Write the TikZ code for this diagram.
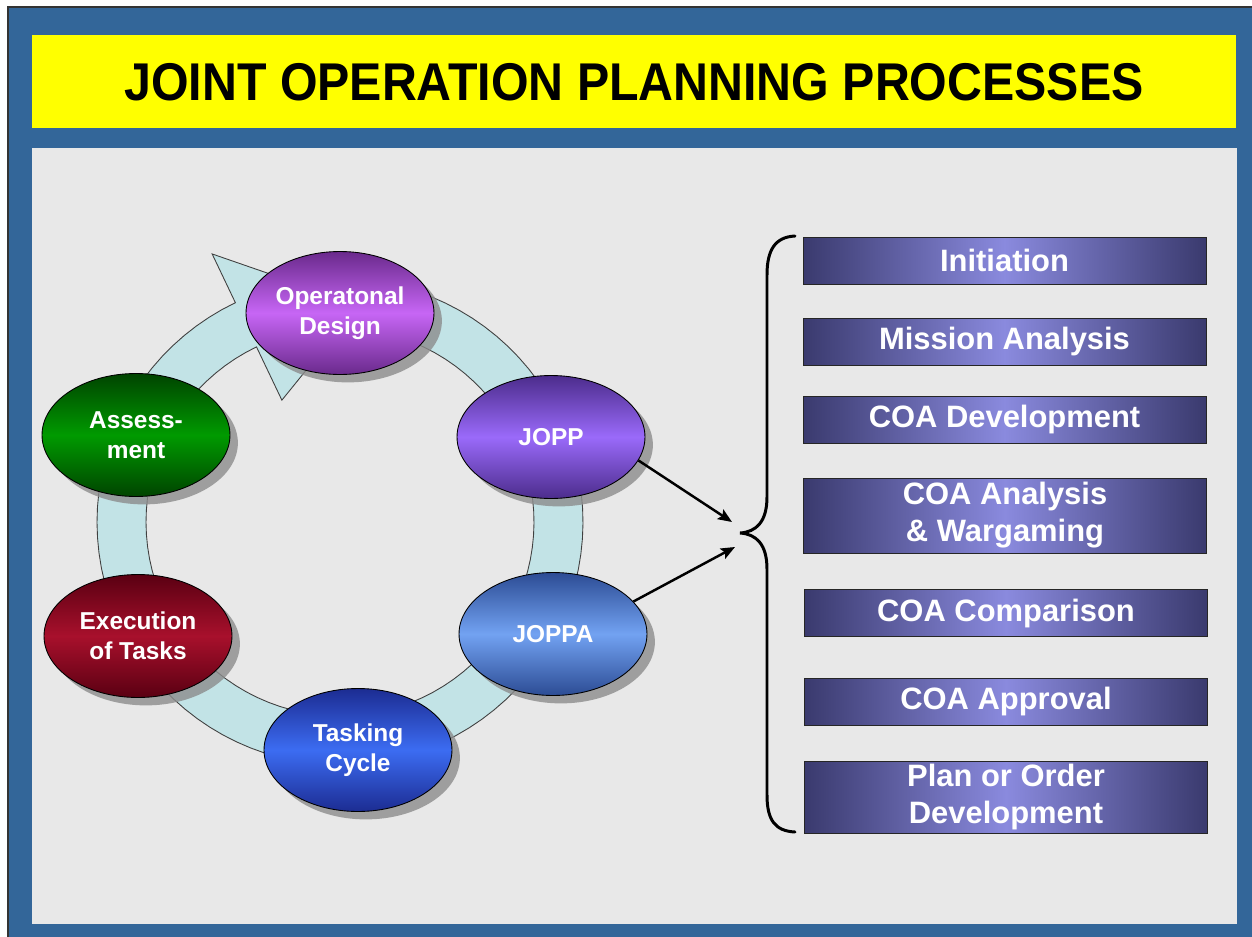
\documentclass[tikz,border=0pt]{standalone}
\usepackage{fontspec}
\setmainfont{Liberation Sans}
\usepackage{tikz}
\usetikzlibrary{calc,shapes.geometric,shadows,arrows.meta}

\definecolor{framebl}{HTML}{336699}
\definecolor{panelgr}{HTML}{E8E8E8}
\definecolor{titleyl}{HTML}{FFFF00}
\definecolor{ringfill}{HTML}{C2E3E6}
\definecolor{boxdark}{HTML}{3A3A6E}
\definecolor{boxlight}{HTML}{8A8ADE}
\definecolor{designlt}{HTML}{C766F5}
\definecolor{designdk}{HTML}{6A2A8C}
\definecolor{assesslt}{HTML}{009A00}
\definecolor{assessdk}{HTML}{004400}
\definecolor{jopplt}{HTML}{9A6AFA}
\definecolor{joppdk}{HTML}{4C2C8C}
\definecolor{joppalt}{HTML}{72A2F2}
\definecolor{joppadk}{HTML}{2C4C94}
\definecolor{execlt}{HTML}{A8102C}
\definecolor{execdk}{HTML}{5A0012}
\definecolor{tasklt}{HTML}{3C6CF2}
\definecolor{taskdk}{HTML}{1C2C92}

\tikzset{
  phase/.style={ellipse, draw=black, line width=0.5pt, minimum width=3.76cm,
    minimum height=2.46cm, inner sep=0pt, align=center, text=white,
    font=\fontsize{13.9}{16.8}\selectfont\bfseries,
    drop shadow={shadow xshift=4.5pt, shadow yshift=-4.5pt, fill=black!45, opacity=.8}},
  stepbox/.style={rectangle, draw=black!85, line width=0.5pt, minimum width=8.06cm,
    minimum height=0.94cm, inner sep=0pt, align=center, text=white,
    left color=boxdark, right color=boxdark, middle color=boxlight,
    font=\fontsize{17.6}{21}\selectfont\bfseries},
  flow/.style={-{Stealth[length=8pt,width=6.5pt,inset=1.5pt]}, line width=1.4pt},
}
\def\drawring{\draw[fill=ringfill, draw=black!75, line width=0.5pt]}
\def\drawbrace{\draw[line width=1.7pt, line cap=round]}
\def\phasenode{\node[phase]}
\def\stepnode{\node[stepbox]}

\begin{document}
\begin{tikzpicture}[x=0.02cm,y=-0.02cm]
\useasboundingbox (0,0) rectangle (1252,937);

% -------- frame and panels ---------
\fill[white] (0,0) rectangle (1252,937);
\filldraw[fill=framebl, draw=black!80, line width=0.6pt] (8,7) rectangle (1254,939);
\fill[titleyl] (32,35) rectangle (1236,128);
\fill[panelgr] (32,148) rectangle (1237,924);
\node (title) at (634,82.5) {\scalebox{1}[1.1]{\fontsize{27.5}{33}\selectfont\bfseries JOINT OPERATION PLANNING PROCESSES}};

% -------- the ring ---------
% everything is relative to the ring centre (rc); angles run clockwise on the page
\coordinate (rc) at (340,522);
\coordinate (tip) at ($ (rc) + ({218*cos(275)},{218*sin(275)}) $);
\drawring plot[domain=285:604.5, samples=90] ({340+243*cos(\x)},{522+243*sin(\x)})
  -- ($ (rc) + ({297*cos(604.5)},{297*sin(604.5)}) $) -- (tip)
  -- ($ (rc) + ({135*cos(604.5)},{135*sin(604.5)}) $)
  -- plot[domain=604.5:285, samples=90] ({340+194*cos(\x)},{522+194*sin(\x)}) -- cycle;

% middle color has to come after top/bottom color
\phasenode[top color=designdk, bottom color=designdk, middle color=designlt] (opdesign) at (340,313) {Operatonal\\Design};
\phasenode[top color=assessdk, bottom color=assessdk, middle color=assesslt] (assess) at (136,435) {Assess-\\ment};
\phasenode[top color=joppdk, bottom color=joppdk, middle color=jopplt] (jopp) at (551,437) {JOPP};
\phasenode[top color=joppadk, bottom color=joppadk, middle color=joppalt] (joppa) at (553,634) {JOPPA};
\phasenode[top color=execdk, bottom color=execdk, middle color=execlt] (exectasks) at (138,636) {Execution\\of Tasks};
\phasenode[top color=taskdk, bottom color=taskdk, middle color=tasklt] (tasking) at (358,750) {Tasking\\Cycle};

% -------- arrows into the brace ---------
\coordinate (injopp) at (732,522);
\coordinate (injoppa) at (735,547);
\draw[flow] (jopp.-15) -- (injopp);
\draw[flow] (joppa.22) -- (injoppa);

% -------- the brace ---------
\coordinate (btop) at (795,236);
\coordinate (bcusp) at (740,533);
\coordinate (bbot) at (795,832);
\drawbrace (btop) .. controls (775,237) and (767,250) .. (767,275) -- (767,497)
  .. controls (767,522) and (756,532) .. (bcusp)
  .. controls (756,534) and (767,544) .. (767,569) -- (767,795)
  .. controls (767,820) and (775,831) .. (bbot);

% -------- JOPP steps ---------
\stepnode (init) at (1004.5,260.5) {Initiation};
\stepnode (mission) at (1004.5,341.5) {Mission Analysis};
\stepnode (coadev) at (1004.5,419.5) {COA Development};
\stepnode[minimum height=1.5cm] (coaanal) at (1005,515.5) {COA Analysis\\\& Wargaming};
\stepnode (coacomp) at (1006,613) {COA Comparison};
\stepnode (coaappr) at (1006,701.5) {COA Approval};
\stepnode[minimum height=1.44cm] (plandev) at (1006,797) {Plan or Order\\Development};
\end{tikzpicture}
\end{document}
